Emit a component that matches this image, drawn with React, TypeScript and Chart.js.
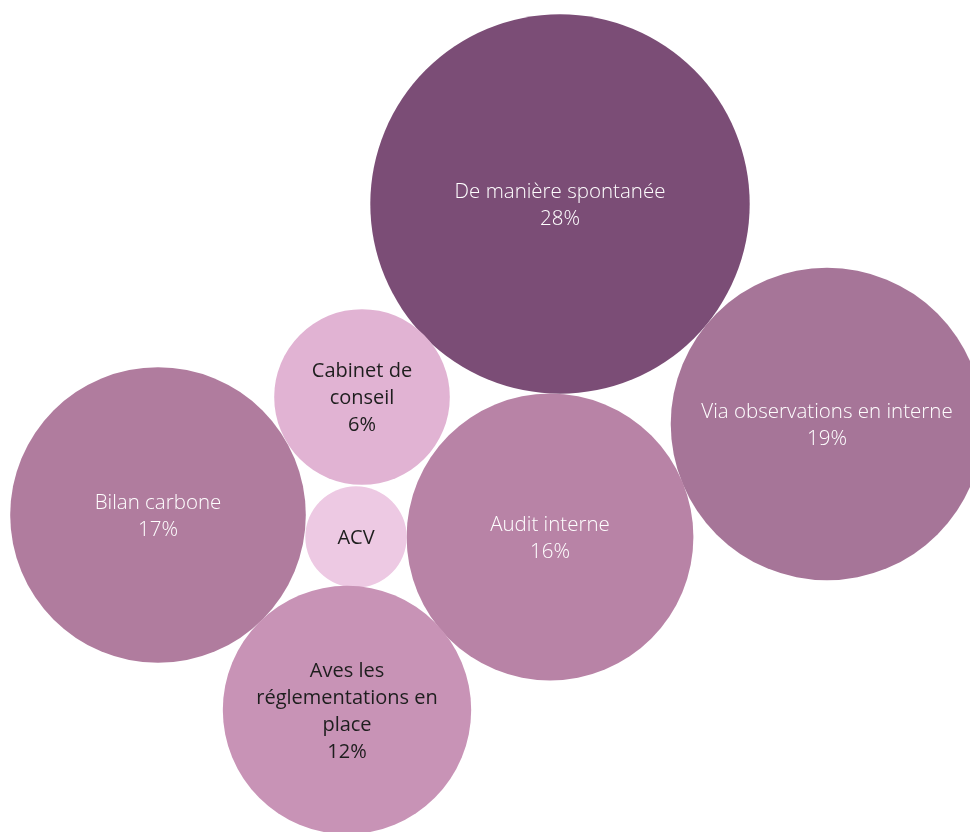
import React, { useEffect, useRef } from "react";
import { Chart, registerables } from "chart.js";

Chart.register(...registerables);

const categories = [
  "De manière\u00a0spontanée",
  "Via observations en interne",
  "Audit interne",
  "Bilan carbone",
  "Cabinet de\nconseil",
  "ACV",
  "Aves les\nréglementations en\nplace",
];
const shares = [28, 19, 16, 17, 6, 2, 12];
// packed-bubble layout positions (axis units)
const layoutX = [560, 827, 550, 158, 362, 356, 347];
const layoutY = [204, 424, 537, 515, 397, 537, 710];

const fills = ["#7b4d76", "#a67598", "#b883a6", "#b07c9e", "#e1b3d3", "#edc9e3", "#c893b6"];
const textColors = ["#ffffff", "#ffffff", "#ffffff", "#ffffff", "#1e1e1e", "#1e1e1e", "#1e1e1e"];
const textWeights = [300, 300, 300, 300, 400, 400, 400];

const W = 970;
const H = 832;
const RADIUS_K = 35.85;

export default function App() {
  const ref = useRef<HTMLCanvasElement | null>(null);
  useEffect(() => {
    if (!ref.current) return;
    const radii = shares.map((v) => RADIUS_K * Math.sqrt(v));
    const rMax = Math.max(...radii);
    const labelPlugin = {
      id: "bubbleLabels",
      afterDatasetsDraw(chart: any) {
        const ctx = chart.ctx;
        const meta = chart.getDatasetMeta(0);
        ctx.save();
        ctx.textAlign = "center";
        ctx.textBaseline = "middle";
        const lh = 27;
        meta.data.forEach((el: any, i: number) => {
          ctx.font = `${textWeights[i]} ${textWeights[i] === 400 ? 20 : 20.5}px "Open Sans", sans-serif`;
          const lines = categories[i].split("\n");
          if (shares[i] >= 5) lines.push(shares[i] + "%");
          const top = el.y + 1.5 - ((lines.length - 1) * lh) / 2;
          ctx.fillStyle = textColors[i];
          lines.forEach((ln, j) => ctx.fillText(ln, el.x, top + j * lh));
        });
        ctx.restore();
      },
    };
    const chart = new Chart(ref.current, {
      type: "bubble",
      data: {
        datasets: [
          {
            data: shares.map((v, i) => ({ x: layoutX[i], y: layoutY[i], r: radii[i] })),
            backgroundColor: fills,
            borderWidth: 0,
            hoverBorderWidth: 0,
            clip: false,
          },
        ],
      },
      options: {
        animation: false,
        responsive: false,
        maintainAspectRatio: false,
        layout: { padding: 0 },
        plugins: { legend: { display: false }, tooltip: { enabled: false } },
        scales: {
          // the bubble controller reserves rMax of padding on each side; offset the ranges so 1 unit = 1 px
          x: { type: "linear", min: rMax, max: W - rMax, display: false },
          y: { type: "linear", min: rMax, max: H - rMax, reverse: true, display: false },
        },
      },
      plugins: [labelPlugin],
    });
    return () => chart.destroy();
  }, []);
  return (
    <div style={{ position: "fixed", left: 0, top: 0, width: W, height: H, background: "#fff" }}>
      <canvas ref={ref} width={W} height={H} style={{ width: W, height: H, display: "block" }} />
    </div>
  );
}
